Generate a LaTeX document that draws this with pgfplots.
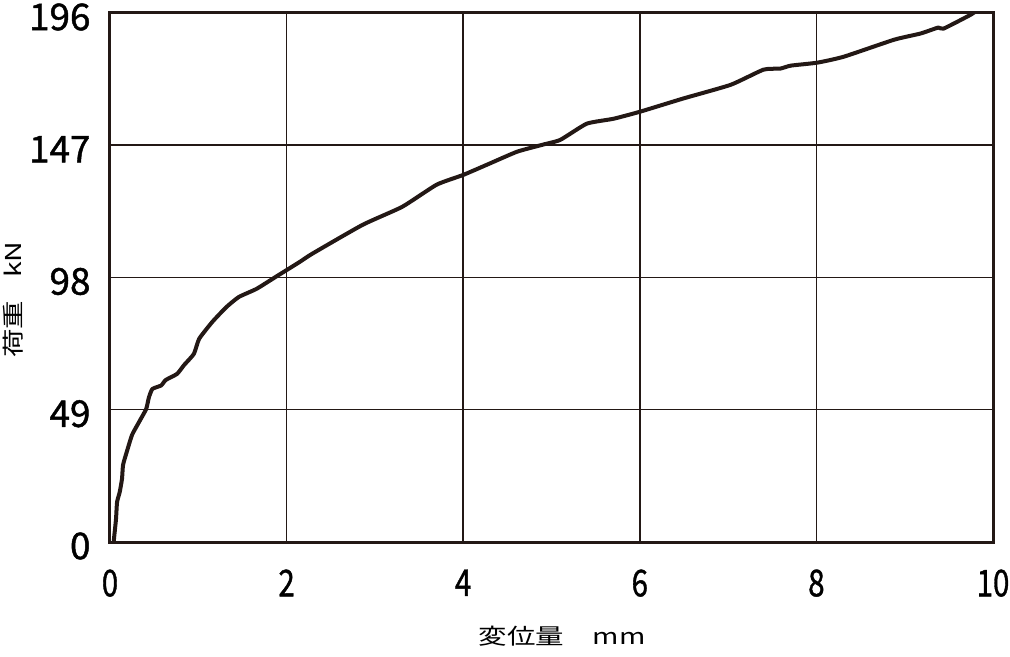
\documentclass[border=0pt]{standalone}
\usepackage{fontspec}
\setmainfont{Noto Sans CJK JP}
\newfontfamily\tickfont[FakeBold=1.2]{Noto Sans CJK JP}
\usepackage{pgfplots}
\pgfplotsset{compat=1.18}
\definecolor{ink}{HTML}{231815}
\begin{document}
\begin{tikzpicture}
\begin{axis}[
  scale only axis,
  width=883bp, height=529bp,
  xmin=0, xmax=10, ymin=0, ymax=196,
  xtick={0,2,4,6,8,10},
  ytick={0,49,98,147,196},
  grid=major,
  major grid style={ink, line width=1.5bp},
  axis line style={ink, line width=3bp},
  major tick length=0pt,
  tick style={draw=none},
  /pgf/number format/assume math mode=true,
  ticklabel style={font=\tickfont\fontsize{37}{39}\selectfont, text=black},
  yticklabel style={xshift=-16bp, yshift=-4bp, inner ysep=0pt},
  xticklabel style={yshift=-24bp, xscale=0.8},
  xlabel={\scalebox{1.3}[1]{変位量\hspace{1em}mm}},
  ylabel={\scalebox{1.3}[1]{荷重\hspace{0.8em}kN}},
  label style={font=\fontsize{22}{25}\selectfont, text=black},
  xlabel style={at={(axis description cs:0.512,-0.178)}, anchor=center},
  ylabel style={at={(axis description cs:-0.110,0.458)}, anchor=center, rotate=0},
  clip=true,
]
\addplot[ink, line width=4bp, line join=round, smooth, tension=0.3] coordinates {
(0.045,0) (0.045,1.1) (0.068,8.5) (0.08,14.8) (0.11,18.5) (0.136,23.4) (0.148,28.6)
(0.19,33.4) (0.25,39.7) (0.33,44.5) (0.41,49.3) (0.44,53.5) (0.48,56.7) (0.58,58)
(0.63,60) (0.76,62.3) (0.84,65.6) (0.95,69.7) (1.01,75.3) (1.16,81.6)
(1.32,87.1) (1.46,90.8) (1.66,93.8) (1.88,98.3) (2.15,103.8) (2.29,106.8)
(2.86,117.5) (3.31,124.2) (3.70,132.4) (4.0,136) (4.27,139.8) (4.61,144.6)
(4.90,147.2) (5.10,149) (5.40,155) (5.70,156.8) (6.0,159.4) (6.49,164.3)
(7.03,169.4) (7.40,175) (7.59,175.4) (7.71,176.5) (8.01,177.6) (8.31,179.8)
(8.88,186.1) (9.18,188.4) (9.38,190.6) (9.44,190.2) (9.75,195.4) (9.82,197)
};
\end{axis}
\pgfresetboundingbox
\path (-110bp,-115bp) rectangle (900bp,542bp);
\end{tikzpicture}
\end{document}
